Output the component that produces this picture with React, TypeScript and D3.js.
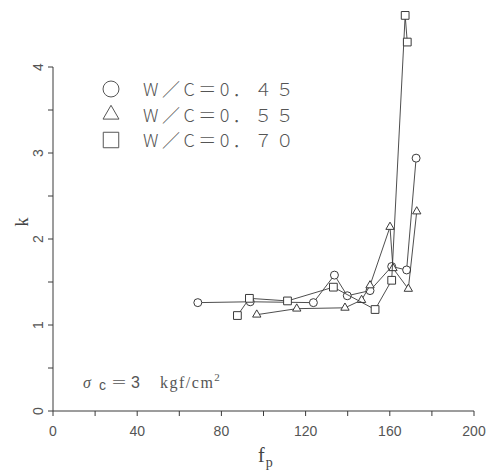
import * as d3 from "d3";

// W/C = 0.45 (circles)
const fpCircle = [68.8, 93.7, 123.7, 133.7, 139.8, 150.6, 160.9, 168.0, 172.5];
const kCircle = [1.26, 1.27, 1.26, 1.58, 1.34, 1.40, 1.68, 1.64, 2.94];
// W/C = 0.55 (triangles)
const fpTriangle = [96.8, 115.8, 138.7, 146.6, 150.6, 160.1, 161.5, 168.8, 172.8];
const kTriangle = [1.12, 1.19, 1.2, 1.29, 1.46, 2.14, 1.66, 1.42, 2.32];
// W/C = 0.70 (squares)
const fpSquare = [87.6, 93.3, 111.4, 133.2, 153.0, 160.9, 167.3, 168.3];
const kSquare = [1.11, 1.31, 1.28, 1.44, 1.18, 1.52, 4.6, 4.29];

const legendLabels = ["W／C＝0．４５", "W／C＝0．５５", "W／C＝0．７０"];
const xTicks = [0, 20, 40, 60, 80, 100, 120, 140, 160, 180, 200];
const xLabels = [0, 40, 80, 120, 160, 200];
const yTicks = [0, 0.5, 1, 1.5, 2, 2.5, 3, 3.5, 4];
const yLabels = [0, 1, 2, 3, 4];

const width = 496;
const height = 470;
const ink = "#3a3a3a";

const x = d3.scaleLinear().domain([0, 200]).range([53, 474]);
const y = d3.scaleLinear().domain([0, 4]).range([411, 67]);

const series = [
  { fp: fpCircle, k: kCircle, type: d3.symbolCircle, size: 50, legendSize: 200 },
  { fp: fpTriangle, k: kTriangle, type: d3.symbolTriangle, size: 30, legendSize: 110 },
  { fp: fpSquare, k: kSquare, type: d3.symbolSquare, size: 60, legendSize: 240 },
];

const line = d3
  .line<[number, number]>()
  .x((d) => x(d[0]))
  .y((d) => y(d[1]));

export default function App() {
  return (
    <svg
      width={width}
      height={height}
      style={{ position: "absolute", left: 0, top: 0, background: "#fff" }}
    >
      {/* axes */}
      <line x1={x(0)} x2={x(200)} y1={y(0)} y2={y(0)} stroke={ink} strokeWidth={1} />
      <line x1={x(0)} x2={x(0)} y1={y(0)} y2={y(4)} stroke={ink} strokeWidth={1} />
      {xTicks.map((t) => (
        <line key={`xt${t}`} x1={x(t)} x2={x(t)} y1={y(0)} y2={y(0) + 5} stroke={ink} />
      ))}
      {xLabels.map((t) => (
        <text
          key={`xl${t}`}
          x={x(t)}
          y={436}
          textAnchor="middle"
          fontFamily="Liberation Sans"
          fontSize={14}
          fill="#555"
        >
          {t}
        </text>
      ))}
      {yTicks.map((t) => (
        <line key={`yt${t}`} x1={x(0) - 5} x2={x(0)} y1={y(t)} y2={y(t)} stroke={ink} />
      ))}
      {yLabels.map((t) => (
        <text
          key={`yl${t}`}
          transform={`translate(43, ${y(t)}) rotate(-90)`}
          textAnchor="middle"
          fontFamily="Liberation Sans"
          fontSize={14}
          fill="#555"
        >
          {t}
        </text>
      ))}
      <text
        transform="translate(28, 222) rotate(-90)"
        textAnchor="middle"
        fontFamily="Liberation Serif"
        fontSize={18}
        fill="#444"
      >
        k
      </text>
      <text x={258} y={462} fontFamily="Liberation Serif" fontSize={20} fill="#444">
        f
        <tspan fontSize={14} dx={1} dy={5}>
          p
        </tspan>
      </text>

      {/* data */}
      {series.map((s, i) => {
        const pts = s.fp.map((v, j) => [v, s.k[j]] as [number, number]);
        const sym = d3.symbol().type(s.type).size(s.size)();
        return (
          <g key={`s${i}`}>
            <path d={line(pts) ?? ""} fill="none" stroke={ink} strokeWidth={0.9} />
            {pts.map((p, j) => (
              <path
                key={j}
                d={sym ?? ""}
                transform={`translate(${x(p[0])}, ${y(p[1])})`}
                fill="#fff"
                stroke={ink}
                strokeWidth={1}
              />
            ))}
          </g>
        );
      })}

      {/* legend */}
      {series.map((s, i) => {
        const ly = 89 + i * 25.5;
        const sym = d3.symbol().type(s.type).size(s.legendSize)();
        return (
          <g key={`lg${i}`}>
            <path
              d={sym ?? ""}
              transform={`translate(111, ${ly})`}
              fill="none"
              stroke="#555"
              strokeWidth={1}
            />
            <text
              x={143}
              y={ly + 7}
              fontFamily="Noto Sans CJK JP"
              fontSize={18}
              fontWeight={300}
              letterSpacing={3.5}
              fill="#555"
            >
              {legendLabels[i]}
            </text>
          </g>
        );
      })}

      <text y={388} fontFamily="Liberation Serif" fontSize={16} fill="#555">
        <tspan x={83} fontStyle="italic">
          σ
        </tspan>
        <tspan x={99} dy={2} fontFamily="Liberation Sans" fontSize={14}>
          c
        </tspan>
        <tspan x={111} dy={-2} fontFamily="Noto Sans CJK JP" fontWeight={300}>
          ＝
        </tspan>
        <tspan x={131} fontFamily="Liberation Sans" fontWeight={300}>
          3
        </tspan>
        <tspan x={160} letterSpacing={1.5}>
          kgf/cm
        </tspan>
        <tspan dy={-7} fontSize={11}>
          2
        </tspan>
      </text>
    </svg>
  );
}
